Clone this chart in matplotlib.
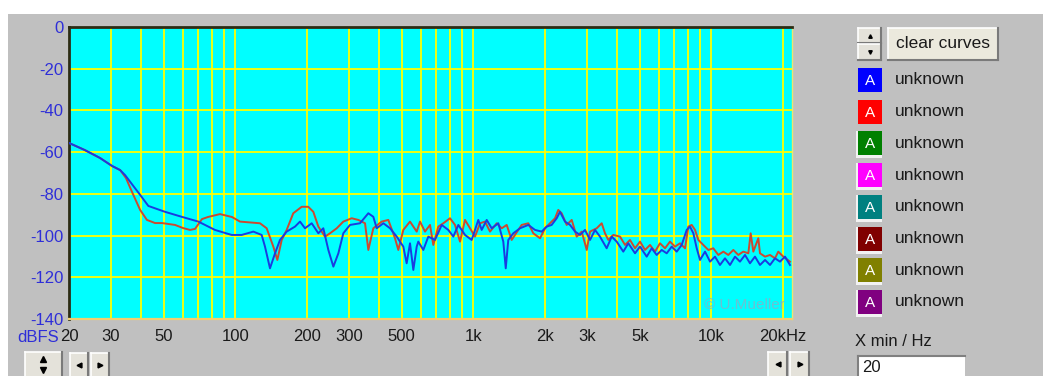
import matplotlib
matplotlib.use('Agg')
import matplotlib.pyplot as plt
from matplotlib.patches import Rectangle
from matplotlib.ticker import FixedLocator, NullFormatter

W, H, DPI = 1043, 376, 100

# ---------------- data ----------------
red_freq = [20, 23.3, 27.0, 30.3, 32.8, 34.7, 36.8, 39.8, 42.5, 46.0,
            49.2, 55.8, 60.3, 64.5, 67.7, 72.4, 76.7, 86.2, 96.8, 104.6,
            126.9, 135.4, 144.4, 150.1, 156.6, 164.3, 175.1, 190.0, 202.5, 212.6,
            223.2, 238.1, 249.9, 266.7, 284.2, 308.2, 328.6, 350.6, 362.0, 379.9,
            412.0, 439.2, 468.6, 483.8, 507.8, 541.8, 578.1,
            596.8, 626.4, 657.5, 678.8, 712.4, 747.8, 797.8, 837.5, 879.0, 922.5,
            968.3, 1016, 1067, 1119, 1175, 1254, 1316, 1381, 1449, 1496,
            1596, 1702, 1786, 1906, 2000, 2099, 2204, 2274, 2350, 2467,
            2590, 2718, 2853, 2995,
            3092, 3298, 3462, 3574, 3690, 3873, 4133, 4338, 4553, 4779,
            5015, 5263, 5524, 5798, 6085, 6387, 6703, 7035, 7384, 7750,
            8003, 8270, 8540, 8817, 9253, 9711, 10190, 10700, 11230, 11780,
            12370, 12980, 13620, 14300, 14630, 15010, 15750, 16010, 16810, 17640,
            18510, 19110, 20060, 21400]
red_db = [-55.6, -59.0, -62.8, -66.6, -68.6, -72.4, -79.1, -87.7, -92.5, -94.0,
          -94.0, -94.9, -96.4, -97.3, -96.8, -92.1, -91.1, -89.7, -91.1, -93.3,
          -94.1, -96.5, -105.3, -111.7, -102.1, -97.3, -89.3, -86.2, -86.2, -88.6,
          -95.7, -100.5, -98.9, -96.5, -93.3, -91.7, -92.5, -94.1, -106.9, -96.5,
          -93.3, -92.5, -101.3, -106.9, -97.3, -93.3, -98.1,
          -93.3, -98.1, -94.9, -104.5, -95.7, -94.1, -91.7, -94.9, -102.9, -92.5,
          -96.5, -100.5, -94.1, -93.3, -98.1, -94.1, -96.5, -94.9, -102.1, -99.7,
          -94.9, -94.1, -98.9, -101.3, -96.5, -94.1, -91.7, -87.7, -89.3, -94.9,
          -92.5, -100.5, -98.1, -106.9,
          -98.1, -96.5, -94.1, -98.9, -102.1, -99.7, -100.5, -104.5, -102.1, -106.1,
          -102.9, -106.9, -104.5, -107.7, -103.7, -106.1, -102.9, -105.3, -103.7, -106.1,
          -95.7, -94.9, -97.3, -102.1, -104.5, -106.9, -106.1, -109.3, -107.7, -109.3,
          -106.9, -109.3, -107.7, -108.5, -98.9, -107.7, -101.3, -108.5, -110.1, -109.3,
          -110.9, -107.7, -110.1, -112.5]

blue_freq = [20, 23.3, 27.0, 30.3, 32.8, 34.4, 39.8, 43.1, 50.6, 59.5,
             69.9, 82.1, 96.5, 106.3, 119.0, 129.0, 133.2, 139.8, 146.8, 154.0,
             164.3, 178.1, 186.9, 196.2, 209.3, 223.2, 234.2, 245.9, 258.1, 270.9,
             284.2, 303.2, 334.0, 362.0, 379.9, 392.6, 418.6, 446.6, 476.5, 507.8,
             524.5, 541.8, 559.5, 578.1,
             587.0, 616.2, 646.8, 690.0, 736.2, 785.0, 823.8, 864.6, 922.5, 984.0,
             1049, 1084, 1138, 1194, 1273, 1336, 1368, 1402, 1472, 1570,
             1702, 1816, 1937, 2033, 2133, 2240, 2312, 2427, 2548, 2675,
             2806, 2945,
             3092, 3246, 3405, 3632, 3814, 4002, 4266, 4478, 4779, 5015,
             5350, 5615, 5893, 6186, 6492, 6814, 7152, 7506, 7878, 8133,
             8400, 8681, 8962, 9406, 9872, 10360, 10870, 11410, 11980, 12570,
             13190, 13850, 14530, 15250, 16010, 16810, 17640, 18510, 19430, 20390,
             21400]
blue_db = [-55.6, -59.0, -62.8, -66.6, -68.6, -71.0, -80.5, -85.8, -88.6, -91.0,
           -93.3, -97.3, -99.7, -99.7, -98.1, -99.7, -105.3, -115.7, -108.5, -102.1,
           -98.1, -95.7, -93.3, -96.5, -94.1, -98.9, -96.5, -106.9, -114.9, -108.5,
           -98.9, -94.9, -94.1, -89.3, -91.0, -96.5, -94.1, -96.5, -100.5, -105.3,
           -113.3, -103.7, -116.5, -105.3,
           -102.9, -106.9, -100.5, -102.1, -94.9, -97.3, -100.5, -94.9, -99.7, -102.1,
           -92.5, -97.3, -92.5, -96.5, -94.1, -102.9, -115.7, -102.1, -98.9, -96.5,
           -94.9, -97.3, -98.1, -95.7, -94.9, -91.7, -88.6, -93.3, -94.9, -98.1,
           -99.7, -97.3,
           -102.1, -97.3, -100.5, -106.1, -100.5, -102.9, -107.7, -103.7, -108.5, -105.3,
           -110.1, -106.1, -109.3, -106.9, -108.5, -105.3, -107.7, -104.5, -97.3, -95.7,
           -98.9, -106.1, -111.7, -107.7, -112.5, -110.1, -114.1, -110.9, -114.1, -110.1,
           -112.5, -109.3, -113.3, -110.1, -114.1, -111.7, -114.1, -110.9, -112.5, -110.1,
           -114.1]

x_ticks = [20, 30, 50, 100, 200, 300, 500, 1000, 2000, 3000, 5000, 10000, 20000]
x_tick_labels = ['20', '30', '50', '100', '200', '300', '500', '1k', '2k', '3k',
                 '5k', '10k', '20kHz']
x_grid_extra = [40, 60, 70, 80, 90, 400, 600, 700, 800, 900,
                4000, 6000, 7000, 8000, 9000]
y_ticks = [0, -20, -40, -60, -80, -100, -120, -140]
y_tick_labels = ['0', '-20', '-40', '-60', '-80', '-100', '-120', '-140']
legend_labels = ['unknown'] * 8
legend_colors = ['#0000ff', '#ff0000', '#008000', '#ff00ff',
                 '#008080', '#800000', '#808000', '#800080']

# ---------------- style ----------------
plt.rcParams['font.family'] = ['Liberation Sans', 'DejaVu Sans']
BG = '#c0c0c0'
LABEL_BLUE = '#2e2ed8'
TXT = '#1a1a1a'

fig = plt.figure(figsize=(W / DPI, H / DPI), dpi=DPI, facecolor=BG)

# UI chrome layer in pixel coordinates
ui = fig.add_axes([0, 0, 1, 1], zorder=0)
ui.set_xlim(0, W)
ui.set_ylim(H, 0)
ui.axis('off')
ui.add_patch(Rectangle((0, 0), W, 14, color='white', lw=0))
ui.add_patch(Rectangle((0, 0), 8, H, color='white', lw=0))


def bevel(x, y, w, h, face='#e4e2da'):
    ui.add_patch(Rectangle((x, y), w, h, facecolor=face, edgecolor='none'))
    ui.plot([x, x + w], [y, y], color='white', lw=1.2)
    ui.plot([x, x], [y, y + h], color='white', lw=1.2)
    ui.plot([x, x + w], [y + h, y + h], color='#7a7a7a', lw=1.5)
    ui.plot([x + w, x + w], [y, y + h], color='#7a7a7a', lw=1.5)


# main plot
ax = fig.add_axes([69 / W, 1 - 319 / H, 723 / W, 292 / H], zorder=1)
ax.set_facecolor('#00ffff')
ax.set_xscale('log')
ax.set_xlim(20, 21820)
ax.set_ylim(-140, 0)
ax.set_xticks(x_ticks)
ax.set_xticklabels(x_tick_labels)
ax.xaxis.set_minor_locator(FixedLocator(x_grid_extra))
ax.xaxis.set_minor_formatter(NullFormatter())
ax.set_yticks(y_ticks)
ax.set_yticklabels(y_tick_labels)
ax.tick_params(which='both', length=0)
ax.tick_params(axis='x', labelsize=12, labelcolor=TXT, pad=7)
ax.tick_params(axis='y', labelsize=12, labelcolor=LABEL_BLUE, pad=4)
ax.grid(True, which='both', color='#ffff00', lw=1.3)
ax.set_axisbelow(True)
for side, col, lw in [('left', '#2c2c14', 2.0), ('top', '#2c2c14', 2.0),
                      ('right', '#e8e870', 1.0), ('bottom', '#f0d070', 1.6)]:
    ax.spines[side].set_color(col)
    ax.spines[side].set_linewidth(lw)

ax.plot(red_freq, red_db, color='#cc4a30', lw=1.4, zorder=3)
ax.plot(blue_freq, blue_db, color='#1a3ce0', lw=1.4, zorder=4)

ax.text(0.99, 0.048, '\u00a9 U.Mueller', transform=ax.transAxes, ha='right',
        va='center', fontsize=11, color='#6cc0d2', zorder=5)

# axis unit label
ui.text(17, 338, 'dBFS', color=LABEL_BLUE, fontsize=12, ha='left', va='center')

# bottom-left controls
bevel(25, 352, 37, 26)
ui.plot([43], [359], marker='^', ms=5, color='black')
ui.plot([43], [370], marker='v', ms=5, color='black')
bevel(70, 353, 18, 25)
bevel(91, 353, 18, 25)
ui.plot([79], [365], marker='<', ms=3.5, color='black')
ui.plot([100], [365], marker='>', ms=3.5, color='black')

# bottom-right arrows
bevel(768, 352, 19, 26)
bevel(790, 352, 19, 26)
ui.plot([777.5], [364], marker='<', ms=3.5, color='black')
ui.plot([799.5], [364], marker='>', ms=3.5, color='black')

# top-right spinner and button
bevel(858, 28, 23, 15)
bevel(858, 44, 23, 16)
ui.plot([869.5], [35.5], marker='^', ms=2.5, color='black')
ui.plot([869.5], [52], marker='v', ms=2.5, color='black')
bevel(888, 28, 110, 32, face='#ebe9dd')
ui.text(943, 44, 'clear curves', fontsize=12.5, color=TXT, ha='center', va='center')

# legend rows
for i, (col, lab) in enumerate(zip(legend_colors, legend_labels)):
    yc = 80 + i * 31.7
    if i >= 2:
        ui.add_patch(Rectangle((856, yc - 12), 26, 27, facecolor='#f2f2f2',
                               edgecolor='none'))
    ui.add_patch(Rectangle((858, yc - 12), 24, 24, facecolor=col, edgecolor='none'))
    ui.text(870, yc + 1, 'A', color='white', fontsize=11, ha='center', va='center')
    ui.text(895, yc, lab, color=TXT, fontsize=12.5, ha='left', va='center')

# X min entry
ui.text(855, 342, 'X min / Hz', color=TXT, fontsize=12, ha='left', va='center')
ui.add_patch(Rectangle((858, 356), 107, 22, facecolor='white', edgecolor='none'))
ui.plot([858, 965], [356, 356], color='#808080', lw=1.5)
ui.plot([858, 858], [356, 376], color='#808080', lw=1.5)
ui.text(862, 368, '20', color=TXT, fontsize=12, ha='left', va='center')

fig.savefig('out.png', dpi=DPI, facecolor=BG)
